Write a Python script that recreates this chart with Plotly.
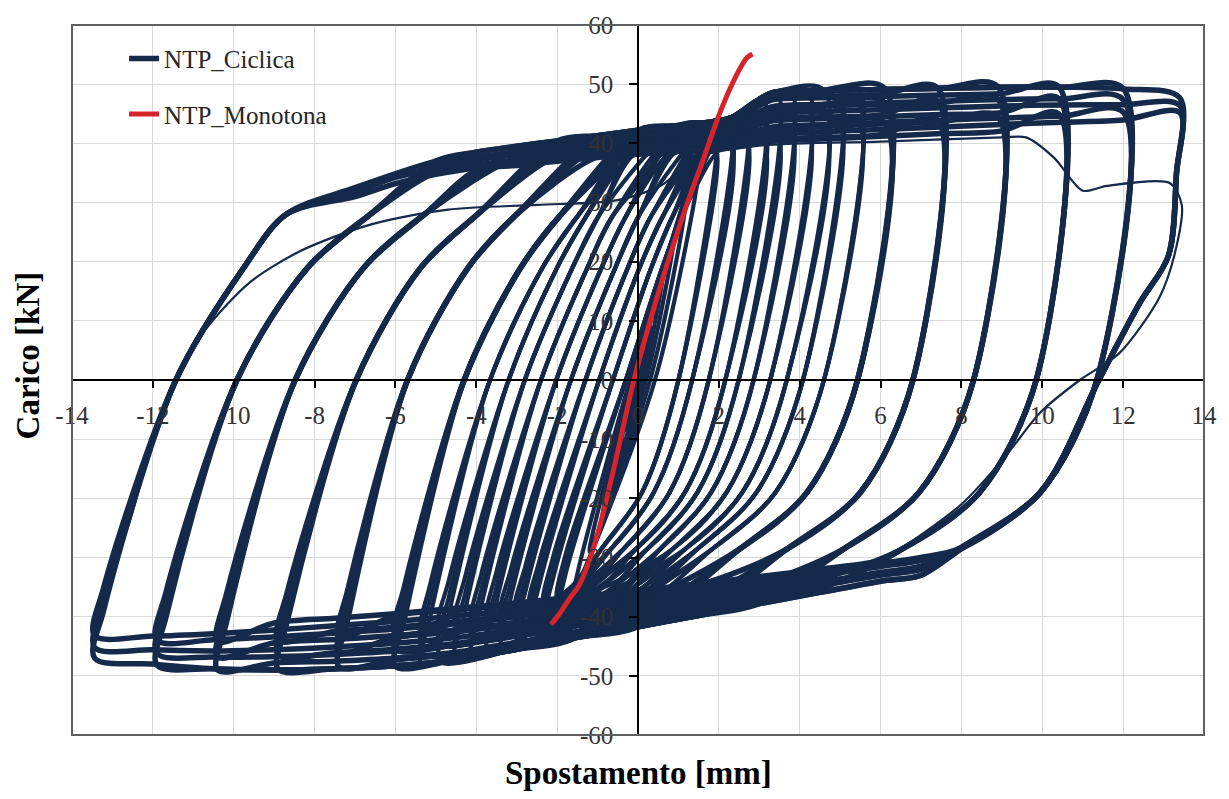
import plotly.graph_objects as go

# ---------------- data ----------------
# cyclic test: amplitude levels (3 cycles each)
lvl_xp = [1.95, 2.3, 2.7, 3.1, 3.45, 3.8, 4.2, 4.6, 5.0, 5.45, 6.1, 7.4, 8.9, 10.4, 12.0, 13.4]
lvl_xn = [-2.0, -2.32, -2.66, -3.0, -3.36, -3.72, -4.1, -4.5, -4.9, -5.36, -6.0, -7.4, -8.9, -10.4, -11.9, -13.44]
fp1 = [42.0, 43.5, 45.5, 47.5, 48.3, 48.7, 48.9, 49.0, 49.1, 49.2, 49.3, 49.4, 49.6, 49.6, 49.3, 47.7]
fp2 = [40.3, 41.5, 42.8, 44.0, 44.8, 45.3, 45.7, 46.0, 46.3, 46.6, 46.9, 47.2, 47.5, 47.6, 47.4, 46.4]
fp3 = [38.3, 39.2, 39.9, 40.5, 41.0, 41.5, 41.9, 42.3, 42.7, 43.1, 43.5, 44.0, 44.5, 45.0, 45.3, 45.2]
fn1 = [-40.5, -41.5, -42.6, -43.6, -44.6, -45.5, -46.3, -47.0, -47.6, -48.0, -48.4, -48.5, -48.9, -49.0, -48.2, -47.0]
fn2 = [-38.8, -39.6, -40.5, -41.4, -42.2, -43.0, -43.6, -44.2, -44.7, -45.0, -45.5, -46.0, -46.5, -46.8, -46.2, -45.2]
fn3 = [-37.2, -37.9, -38.6, -39.3, -39.9, -40.4, -40.9, -41.4, -41.9, -42.5, -43.0, -43.5, -44.0, -44.2, -44.0, -43.2]
# zero-force crossings of unloading (right) and reloading (left) branches
unl_x0 = [1.0, 1.34, 1.75, 2.16, 2.49, 2.86, 3.27, 3.68, 4.08, 4.6, 5.43, 6.8, 8.3, 9.85, 11.35, 11.4]
rel_x0 = [-0.3, -0.62, -0.96, -1.3, -1.66, -2.02, -2.4, -2.8, -3.2, -3.66, -4.3, -5.7, -6.97, -8.48, -9.92, -11.43]
# knee offsets (mm from the zero crossing) where branches reach the knee forces
knee_unl_y = [-19.0, -28.5]
ue1 = [0.9, 0.95, 0.97, 1.0, 1.02, 1.05, 1.08, 1.1, 1.15, 1.2, 1.25, 1.3, 1.35, 1.4, 1.4, 1.45]
ue2 = [1.9, 2.0, 2.1, 2.2, 2.25, 2.3, 2.4, 2.5, 2.6, 2.75, 2.9, 3.1, 3.2, 3.3, 3.35, 3.45]
knee_rel_y = [19.0, 28.0]
rk1 = [0.9, 0.95, 1.0, 1.05, 1.1, 1.12, 1.15, 1.18, 1.2, 1.3, 1.4, 1.5, 1.6, 1.7, 1.75, 1.68]
rk2 = [1.4, 1.5, 1.6, 1.65, 1.7, 1.75, 1.8, 1.85, 1.95, 2.2, 2.4, 2.7, 3.0, 3.2, 3.3, 2.73]
# reloading corner after the negative peak
corner_dx, corner_dy = 0.22, 8.0
# steep first part of the outermost unloading branch
outer_unl_x = [13.32, 13.12, 12.4]
outer_unl_y = [35.0, 21.0, 12.9]
# upper (reloading) band: top and bottom edges
up_x = [-7.0, -6.0, -5.0, -4.0, -3.0, -2.0, -1.0, 0.0, 1.0, 1.8, 2.3, 2.8, 3.3, 4.5, 6.0, 7.5, 9.0, 10.5, 12.0, 13.4]
up_hi = [32.5, 35.3, 37.0, 38.5, 39.5, 40.4, 41.3, 42.2, 43.0, 43.6, 44.3, 46.5, 48.5, 48.9, 49.1, 49.3, 49.5, 49.5, 49.2, 47.7]
up_lo = [30.5, 32.5, 34.0, 35.0, 35.8, 36.5, 37.1, 37.6, 38.0, 38.3, 38.6, 38.9, 39.2, 39.6, 40.1, 40.6, 41.1, 41.6, 42.2, 45.0]
# lower (unloading) band: upper and lower edges
lo_x = [-13.44, -12.0, -10.5, -9.0, -7.5, -6.0, -4.5, -3.0, -1.5, 0.0, 1.5, 3.0, 4.5, 6.0, 7.0]
lo_hi = [-43.0, -41.7, -40.9, -40.0, -39.1, -38.3, -37.4, -36.6, -35.7, -34.8, -33.7, -32.6, -31.4, -30.0, -29.0]
lo_lo = [-47.0, -48.0, -48.8, -49.0, -48.8, -48.3, -47.3, -45.5, -43.5, -41.7, -39.8, -37.8, -35.9, -34.0, -33.0]
cyc_w = [1.0, 0.62, 0.25]
lvl_w = [-0.15, 0.05, -0.1, 0.1, -0.05, 0.12, -0.12, 0.02, 0.08, -0.08, 0.12, -0.1, 0.1, -0.13, 0.13, 0.0]
n_inner = 10   # levels drawn with the thinner line

# small near-elastic cycles around the origin
sm_xp = [0.3, 0.6, 0.9, 1.2, 1.55]
sm_fp = [9.0, 17.0, 24.5, 31.0, 38.0]
sm_xn = [-0.3, -0.6, -0.9, -1.2, -1.55]
sm_fn = [-8.5, -16.0, -23.0, -29.0, -35.0]
sm_zu = [-0.04, -0.06, -0.1, -0.15, -0.2]
sm_zd = [0.05, 0.12, 0.2, 0.3, 0.42]

# last (degraded) cycle, thin line
deg_x = [-13.44, -13.22, -12.6, -12.0, -11.43, -10.7, -9.6, -8.35, -6.6, -4.7, -2.5, -0.5, 0.6, 1.4, 3.0, 6.0, 9.0, 9.6,
         10.3, 11.0, 11.6, 13.15, 13.45, 13.3, 12.9, 11.9, 10.93, 9.95, 9.1, 8.0, 6.3]
deg_y = [-44.0, -35.0, -24.5, -10.0, 0.0, 8.5, 16.5, 21.8, 26.3, 28.8, 29.6, 30.4, 33.0, 37.5, 39.6, 40.3, 41.0, 41.0,
         37.5, 32.0, 32.8, 33.3, 29.6, 22.0, 14.0, 4.5, 0.0, -5.5, -12.8, -21.0, -29.5]

# monotonic test
mono_x = [-2.15, -1.95, -1.7, -1.44, -1.03, -0.62, -0.1, 0.52, 1.18, 1.6, 2.0, 2.3, 2.55, 2.7, 2.83]
mono_y = [-41.3, -39.6, -37.0, -34.5, -26.8, -15.6, 0.0, 15.1, 29.1, 37.0, 44.7, 49.6, 53.0, 54.5, 55.1]

x_ticks = list(range(-14, 15, 2))
y_ticks = list(range(-60, 61, 10))


# ---------------- build cyclic paths ----------------
def add_band_nodes(xs, ys, cand, join_slope=2.5):
    """append band nodes keeping the knee transition smooth (no S-kinks)"""
    for x, y in cand:
        px, py = xs[-1], ys[-1]
        qx, qy = xs[-2], ys[-2]
        if x == px:
            continue
        s_prev = (py - qy) / (px - qx)
        s_new = (y - py) / (x - px)
        if s_prev > join_slope and not (0.3 < s_new <= s_prev):
            continue
        xs.append(x)
        ys.append(y)


fps = [fp1, fp2, fp3]
fns = [fn1, fn2, fn3]
inner_x, inner_y, outer_x, outer_y = [], [], [], []
nlev = len(lvl_xp)
for k in range(nlev):
    xp, xn = lvl_xp[k], lvl_xn[k]
    for c in range(3):
        w = min(1.0, max(0.0, cyc_w[c] + lvl_w[k]))
        fp, fn = fps[c][k], fns[c][k]
        xs, ys = [xp], [fp]
        if k == nlev - 1:
            xs += outer_unl_x
            ys += outer_unl_y
        xs.append(unl_x0[k]); ys.append(0.0)
        for dx, yv in ((ue1[k], knee_unl_y[0]), (ue2[k], knee_unl_y[1])):
            xk = unl_x0[k] - dx
            if xk > xn + 0.4:
                xs.append(xk); ys.append(yv)
        lim = xs[-1] - 0.5
        cand = [(lo_x[j], lo_hi[j] + (lo_lo[j] - lo_hi[j]) * w)
                for j in range(len(lo_x) - 1, -1, -1) if xn + 0.4 < lo_x[j] < lim]
        add_band_nodes(xs, ys, cand)
        xs.append(xn); ys.append(fn)
        xs.append(xn + corner_dx); ys.append(fn + corner_dy)
        xs.append(rel_x0[k]); ys.append(0.0)
        for dx, yv in ((rk1[k], knee_rel_y[0]), (rk2[k], knee_rel_y[1])):
            xk = rel_x0[k] + dx
            if xk < xp - 0.4:
                xs.append(xk); ys.append(yv)
        lim = xs[-1] + 0.6
        cand = [(up_x[j], up_lo[j] + (up_hi[j] - up_lo[j]) * w)
                for j in range(len(up_x)) if lim < up_x[j] < xp - 0.35]
        add_band_nodes(xs, ys, cand)
        xs.append(xp); ys.append(fp)
        if k < n_inner:
            inner_x += xs + [None]; inner_y += ys + [None]
        else:
            outer_x += xs + [None]; outer_y += ys + [None]

for i in range(len(sm_xp)):
    inner_x += [sm_xp[i], sm_zd[i], sm_xn[i], sm_zu[i], sm_xp[i], None]
    inner_y += [sm_fp[i], 0.0, sm_fn[i], 0.0, sm_fp[i], None]

NAVY = '#15294a'
RED = '#d7232b'

fig = go.Figure()
fig.add_trace(go.Scatter(x=outer_x, y=outer_y, mode='lines', name='NTP_Ciclica', legendgroup='a',
                         line=dict(color=NAVY, width=5.5, shape='spline', smoothing=0.9),
                         connectgaps=False))
fig.add_trace(go.Scatter(x=inner_x, y=inner_y, mode='lines', showlegend=False, legendgroup='a',
                         line=dict(color=NAVY, width=4.2, shape='spline', smoothing=0.9),
                         connectgaps=False))
fig.add_trace(go.Scatter(x=deg_x, y=deg_y, mode='lines', showlegend=False, legendgroup='a',
                         line=dict(color=NAVY, width=2.2, shape='spline', smoothing=0.8)))
fig.add_trace(go.Scatter(x=mono_x, y=mono_y, mode='lines', name='NTP_Monotona', legendgroup='b',
                         line=dict(color=RED, width=5, shape='spline', smoothing=0.8)))

FONT = 'Liberation Serif'
fig.update_layout(
    width=1229, height=799,
    margin=dict(l=72, r=17, t=19, b=64),
    paper_bgcolor='white', plot_bgcolor='white',
    font=dict(family=FONT, size=25, color='#333333'),
    showlegend=True,
    legend=dict(x=0.046, y=0.985, xanchor='left', yanchor='top', bgcolor='rgba(0,0,0,0)',
                font=dict(family=FONT, size=25, color='#262626'), tracegroupgap=20),
    xaxis=dict(range=[-14, 14], tickvals=x_ticks, ticktext=[str(v) for v in x_ticks],
               showgrid=True, gridcolor='#d9d9d9', gridwidth=1, zeroline=False,
               showline=True, linecolor='black', linewidth=1.5, anchor='free', position=0.5,
               ticks='outside', ticklen=7, tickwidth=1.5, tickcolor='black', ticklabelstandoff=6),
    yaxis=dict(range=[-60, 60], tickvals=y_ticks, ticktext=[str(v) for v in y_ticks],
               showgrid=True, gridcolor='#d9d9d9', gridwidth=1, zeroline=False,
               showline=True, linecolor='black', linewidth=1.5, anchor='free', position=0.5,
               ticks='outside', ticklen=8, tickwidth=1.5, tickcolor='black', ticklabelstandoff=11),
    shapes=[dict(type='rect', xref='paper', yref='paper', x0=0, y0=0, x1=1, y1=1,
                 line=dict(color='#5f5f5f', width=2), layer='above')],
    annotations=[
        dict(text='<b>Spostamento [mm]</b>', xref='paper', yref='paper', x=0.5, y=-0.053,
             xanchor='center', yanchor='middle', showarrow=False, font=dict(family=FONT, size=33, color='black')),
        dict(text='<b>Carico [kN]</b>', xref='paper', yref='paper', x=-0.0386, y=0.535,
             xanchor='center', yanchor='middle', showarrow=False, textangle=-90,
             font=dict(family=FONT, size=33, color='black')),
    ],
)

fig.write_html('out.html')
